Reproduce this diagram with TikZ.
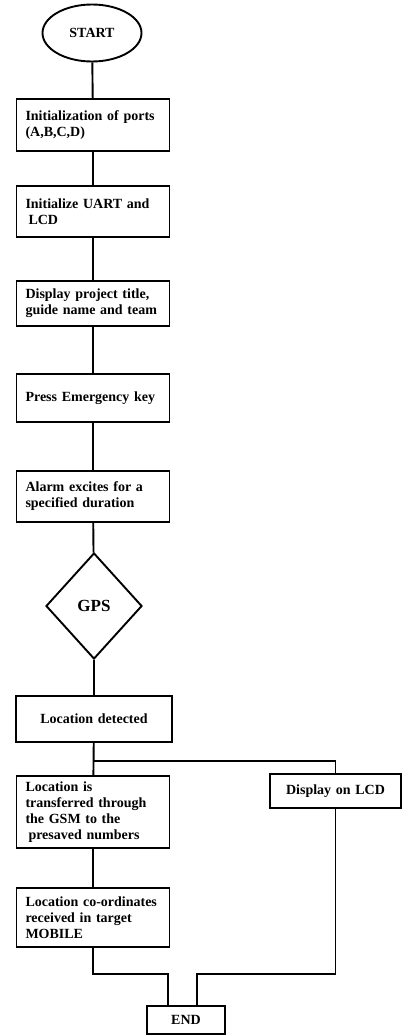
\documentclass[tikz,border=0pt]{standalone}
\usepackage{fontspec}
\setmainfont{Liberation Serif}
\usetikzlibrary{shapes.geometric}

\begin{document}
\begin{tikzpicture}[x=1pt, y=1pt, line width=1.9pt,
  every node/.style={font=\fontsize{14}{16}\selectfont\bfseries},
  stepbox/.style={draw, text width=135pt, align=left, inner xsep=9pt, inner ysep=3pt}]
  \useasboundingbox (0,0) rectangle (402,-1036);

  \node[draw, ellipse, minimum width=99pt, minimum height=57pt, inner sep=0] (start) at (92,-33) {START};
  \node[stepbox, minimum height=52pt] (ports) at (93,-125) {Initialization of ports\\(A,B,C,D)};
  \node[stepbox, minimum height=51pt] (uart) at (93,-211.5) {Initialize UART and\\\hspace{3pt}LCD};
  \node[stepbox, minimum height=45pt] (title) at (93,-303.5) {Display project title,\\guide name and team};
  \node[stepbox, minimum height=48pt] (key) at (93,-398) {Press Emergency key};
  \node[stepbox, minimum height=51pt] (alarm) at (93,-496.5) {Alarm excites for a\\specified duration};
  \node[draw, diamond, minimum width=96pt, minimum height=106pt, inner sep=0,
        font=\fontsize{17}{20}\selectfont\bfseries] (gps) at (94,-606) {GPS};
  \node[stepbox, text width=138pt, align=center, minimum height=46pt] (found) at (94,-719) {Location detected};
  \node[stepbox, minimum height=72pt] (gsm) at (93,-812) {Location is\\transferred through\\the GSM to the\\\hspace{3pt}presaved numbers};
  \node[stepbox, text width=113pt, align=center, minimum height=34pt] (lcd) at (335.5,-791) {Display on LCD};
  \node[stepbox, minimum height=59pt] (mobile) at (93,-917.5) {Location co-ordinates\\received in target\\MOBILE};
  \node[draw, minimum width=78pt, minimum height=28pt, inner sep=0] (end) at (186,-1020) {END};

  \foreach \a/\b in {start/ports, ports/uart, uart/title, title/key, key/alarm, alarm/gps, gps/found, found/gsm, gsm/mobile}
    \draw (\a) -- (\b);

  \coordinate (split) at (found.south |- 0,-761);
  \coordinate (endL) at (168,-1006);
  \coordinate (endR) at (197,-1006);
  \draw (split) -| (lcd.north);
  \draw (mobile.south) -- (mobile.south |- 0,-974) -| (endL);
  \draw (lcd.south) -- (lcd.south |- 0,-974) -| (endR);
\end{tikzpicture}
\end{document}
